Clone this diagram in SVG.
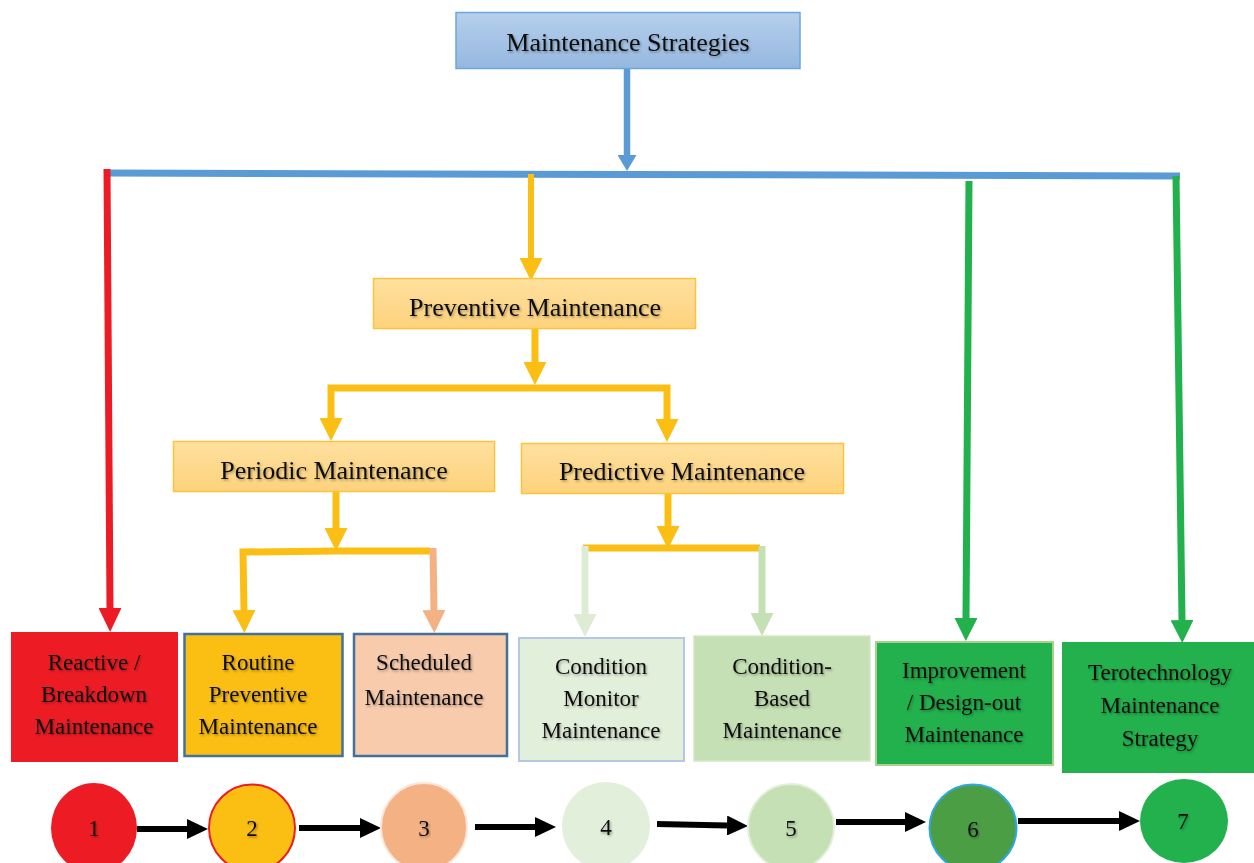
<svg xmlns="http://www.w3.org/2000/svg" width="1254" height="863" viewBox="0 0 1254 863">
  <style>
    text { font-family: "Liberation Serif", "Times New Roman", serif; fill: #111; text-anchor: middle; filter: url(#txtShadow); }
    .hdr { font-size: 26px; }
    .lbl { font-size: 23px; }
    .num { font-size: 23px; }
    .conn { fill: none; stroke-linejoin: miter; stroke-linecap: butt; }
  </style>
  <defs>
    <filter id="txtShadow" x="-10%" y="-30%" width="120%" height="160%">
      <feDropShadow dx="1.2" dy="1.5" stdDeviation="1" flood-color="#000" flood-opacity="0.35"/>
    </filter>
    <linearGradient id="gBlue" x1="0" y1="0" x2="0" y2="1">
      <stop offset="0" stop-color="#b6cfec"/>
      <stop offset="1" stop-color="#95b8e0"/>
    </linearGradient>
    <linearGradient id="gGold" x1="0" y1="0" x2="0" y2="1">
      <stop offset="0" stop-color="#fee09f"/>
      <stop offset="1" stop-color="#fdd27c"/>
    </linearGradient>
    <marker id="mBlue" markerUnits="userSpaceOnUse" viewBox="0 0 16 19" markerWidth="16" markerHeight="19" refX="0" refY="9.5" orient="auto">
      <path d="M0,0 L16,9.5 L0,19 Z" fill="#5b9bd5"/>
    </marker>
    <marker id="mRed" markerUnits="userSpaceOnUse" viewBox="0 0 24 23" markerWidth="24" markerHeight="23" refX="0" refY="11.5" orient="auto">
      <path d="M0,0 L24,11.5 L0,23 Z" fill="#ed1c24"/>
    </marker>
    <marker id="mGold" markerUnits="userSpaceOnUse" viewBox="0 0 23 23" markerWidth="23" markerHeight="23" refX="0" refY="11.5" orient="auto">
      <path d="M0,0 L23,11.5 L0,23 Z" fill="#fbbf14"/>
    </marker>
    <marker id="mPeach" markerUnits="userSpaceOnUse" viewBox="0 0 23 23" markerWidth="23" markerHeight="23" refX="0" refY="11.5" orient="auto">
      <path d="M0,0 L23,11.5 L0,23 Z" fill="#f4b183"/>
    </marker>
    <marker id="mPale" markerUnits="userSpaceOnUse" viewBox="0 0 23 23" markerWidth="23" markerHeight="23" refX="0" refY="11.5" orient="auto">
      <path d="M0,0 L23,11.5 L0,23 Z" fill="#dfecd5"/>
    </marker>
    <marker id="mSage" markerUnits="userSpaceOnUse" viewBox="0 0 23 23" markerWidth="23" markerHeight="23" refX="0" refY="11.5" orient="auto">
      <path d="M0,0 L23,11.5 L0,23 Z" fill="#c5e0b4"/>
    </marker>
    <marker id="mGreen" markerUnits="userSpaceOnUse" viewBox="0 0 23 23" markerWidth="23" markerHeight="23" refX="0" refY="11.5" orient="auto">
      <path d="M0,0 L23,11.5 L0,23 Z" fill="#22b14c"/>
    </marker>
    <marker id="mBlack" markerUnits="userSpaceOnUse" viewBox="0 0 21 20" markerWidth="21" markerHeight="20" refX="0" refY="10" orient="auto">
      <path d="M0,0 L21,10 L0,20 Z" fill="#000"/>
    </marker>
  </defs>

  <rect width="1254" height="863" fill="#fff"/>

  <!-- connectors -->
  <g id="connectors" class="conn">
    <!-- root to the main bus -->
    <path d="M627,69 V155" stroke="#5b9bd5" stroke-width="6.5" marker-end="url(#mBlue)"/>
    <path d="M104,173 L1180,176" stroke="#5b9bd5" stroke-width="7"/>
    <!-- reactive branch -->
    <path d="M107,169 L110,608" stroke="#ed1c24" stroke-width="7" marker-end="url(#mRed)"/>
    <!-- preventive branch -->
    <path d="M531,174 V258" stroke="#fbbf14" stroke-width="6" marker-end="url(#mGold)"/>
    <path d="M535,328 V362" stroke="#fbbf14" stroke-width="7" marker-end="url(#mGold)"/>
    <path d="M535,388 H331 V418" stroke="#fbbf14" stroke-width="7" marker-end="url(#mGold)"/>
    <path d="M535,388 H667 V419" stroke="#fbbf14" stroke-width="7" marker-end="url(#mGold)"/>
    <!-- periodic split -->
    <path d="M336,491 V528" stroke="#fbbf14" stroke-width="7" marker-end="url(#mGold)"/>
    <path d="M336,551 L243,552 L244,610" stroke="#fbbf14" stroke-width="7" marker-end="url(#mGold)"/>
    <path d="M336,551 H430" stroke="#fbbf14" stroke-width="7"/>
    <path d="M433,548 L434,610" stroke="#f4b183" stroke-width="7" marker-end="url(#mPeach)"/>
    <!-- predictive split -->
    <path d="M668,493 V526" stroke="#fbbf14" stroke-width="7" marker-end="url(#mGold)"/>
    <path d="M583,548 H760" stroke="#fbbf14" stroke-width="7"/>
    <path d="M585,546 V614" stroke="#dfecd5" stroke-width="7" marker-end="url(#mPale)"/>
    <path d="M762,546 V613" stroke="#c5e0b4" stroke-width="7" marker-end="url(#mSage)"/>
    <!-- improvement and terotechnology branches -->
    <path d="M969,181 L966,618" stroke="#22b14c" stroke-width="7" marker-end="url(#mGreen)"/>
    <path d="M1176,176 L1182,620" stroke="#22b14c" stroke-width="7" marker-end="url(#mGreen)"/>
    <!-- sequence arrows between the numbered stages -->
    <path d="M137,829 H187" stroke="#000" stroke-width="6" marker-end="url(#mBlack)"/>
    <path d="M299,828 H360" stroke="#000" stroke-width="6" marker-end="url(#mBlack)"/>
    <path d="M475,827 H535" stroke="#000" stroke-width="6" marker-end="url(#mBlack)"/>
    <path d="M657,824 L727,825.5" stroke="#000" stroke-width="6" marker-end="url(#mBlack)"/>
    <path d="M836,822 H905" stroke="#000" stroke-width="6" marker-end="url(#mBlack)"/>
    <path d="M1018,821 H1119" stroke="#000" stroke-width="6" marker-end="url(#mBlack)"/>
  </g>

  <!-- hierarchy boxes -->
  <g id="strategies">
    <rect x="456" y="12.5" width="344" height="56" fill="url(#gBlue)" stroke="#6ea6dc" stroke-width="1.5"/>
    <text class="hdr" x="628" y="51">Maintenance Strategies</text>
  </g>
  <g id="preventive">
    <rect x="373.5" y="278.5" width="322" height="50" fill="url(#gGold)" stroke="#fcc43c" stroke-width="1.5"/>
    <text class="hdr" x="535" y="316">Preventive Maintenance</text>
  </g>
  <g id="periodic">
    <rect x="173.5" y="441.5" width="321" height="50" fill="url(#gGold)" stroke="#fcc43c" stroke-width="1.5"/>
    <text class="hdr" x="334" y="479">Periodic Maintenance</text>
  </g>
  <g id="predictive">
    <rect x="521.5" y="443.5" width="322" height="50" fill="url(#gGold)" stroke="#fcc43c" stroke-width="1.5"/>
    <text class="hdr" x="682" y="480">Predictive Maintenance</text>
  </g>

  <!-- strategy types -->
  <g id="reactive">
    <rect x="11" y="632" width="167" height="130" fill="#ed1c24"/>
    <text class="lbl" x="94" y="670">Reactive /</text>
    <text class="lbl" x="94" y="702">Breakdown</text>
    <text class="lbl" x="94" y="734">Maintenance</text>
  </g>
  <g id="routine">
    <rect x="184.5" y="634" width="158" height="122" fill="#fbbf14" stroke="#41719c" stroke-width="2.5"/>
    <text class="lbl" x="258" y="670">Routine</text>
    <text class="lbl" x="258" y="702">Preventive</text>
    <text class="lbl" x="258" y="734">Maintenance</text>
  </g>
  <g id="scheduled">
    <rect x="354" y="634" width="153" height="122" fill="#f8cbad" stroke="#41719c" stroke-width="2.5"/>
    <text class="lbl" x="424" y="670">Scheduled</text>
    <text class="lbl" x="424" y="705">Maintenance</text>
  </g>
  <g id="condition-monitor">
    <rect x="519" y="638" width="165" height="123" fill="#e2efda" stroke="#b4c7e7" stroke-width="2"/>
    <text class="lbl" x="601" y="674">Condition</text>
    <text class="lbl" x="601" y="706">Monitor</text>
    <text class="lbl" x="601" y="738">Maintenance</text>
  </g>
  <g id="condition-based">
    <rect x="694" y="636" width="176" height="125" fill="#c5e0b4" stroke="#d3e7c6" stroke-width="1.5"/>
    <text class="lbl" x="782" y="674">Condition-</text>
    <text class="lbl" x="782" y="706">Based</text>
    <text class="lbl" x="782" y="738">Maintenance</text>
  </g>
  <g id="improvement">
    <rect x="876" y="642" width="177" height="123" fill="#22b14c" stroke="#a9d18e" stroke-width="2"/>
    <text class="lbl" x="964" y="678">Improvement</text>
    <text class="lbl" x="964" y="710">/ Design-out</text>
    <text class="lbl" x="964" y="742">Maintenance</text>
  </g>
  <g id="terotechnology">
    <rect x="1062" y="642" width="192" height="131" fill="#22b14c"/>
    <text class="lbl" x="1160" y="680">Terotechnology</text>
    <text class="lbl" x="1160" y="713">Maintenance</text>
    <text class="lbl" x="1160" y="746">Strategy</text>
  </g>

  <!-- numbered stages -->
  <g id="stage-1">
    <ellipse cx="94" cy="828" rx="43" ry="45" fill="#ed1c24"/>
    <text class="num" x="94" y="836">1</text>
  </g>
  <g id="stage-2">
    <ellipse cx="252" cy="828" rx="43" ry="43.5" fill="#fbbf14" stroke="#ed1c24" stroke-width="2"/>
    <text class="num" x="252" y="836">2</text>
  </g>
  <g id="stage-3">
    <ellipse cx="424" cy="827" rx="43" ry="44" fill="#f4b183" stroke="#fbe5d6" stroke-width="2"/>
    <text class="num" x="424" y="836">3</text>
  </g>
  <g id="stage-4">
    <ellipse cx="606" cy="826" rx="44" ry="44" fill="#e2efda"/>
    <text class="num" x="606" y="835">4</text>
  </g>
  <g id="stage-5">
    <ellipse cx="791" cy="827" rx="43" ry="43" fill="#c5e0b4" stroke="#e2efda" stroke-width="2"/>
    <text class="num" x="791" y="836">5</text>
  </g>
  <g id="stage-6">
    <ellipse cx="973" cy="828" rx="43.5" ry="43.5" fill="#4c9e45" stroke="#2fa8e0" stroke-width="2"/>
    <text class="num" x="973" y="837">6</text>
  </g>
  <g id="stage-7">
    <ellipse cx="1184" cy="821" rx="44" ry="42" fill="#22b14c"/>
    <text class="num" x="1183" y="829">7</text>
  </g>
</svg>
